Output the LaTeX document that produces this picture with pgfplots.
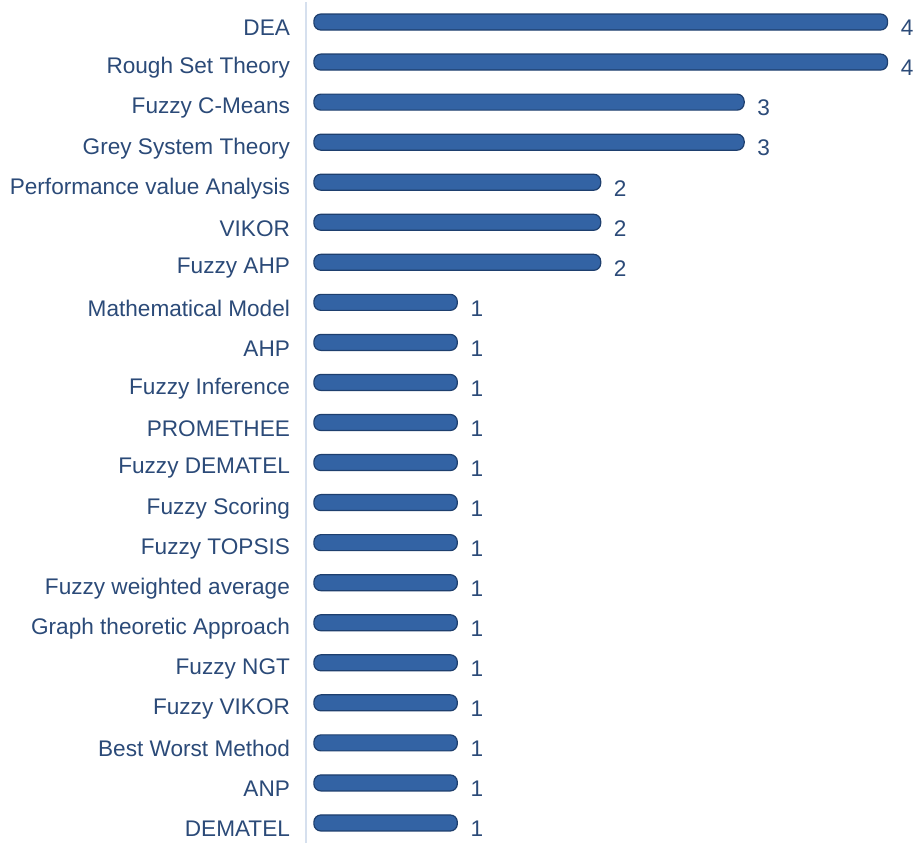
\documentclass[border=0pt]{standalone}
\usepackage{pgfplots}
\pgfplotsset{compat=1.18}
\usepackage{fontspec}
\setmainfont{Liberation Sans}
\definecolor{txt}{HTML}{2B4A78}
\definecolor{barfill}{HTML}{3363A4}
\definecolor{baredge}{HTML}{1E3F6E}
\definecolor{axl}{HTML}{D6E0EE}
\begin{document}
\begin{tikzpicture}[x=1pt,y=1pt]
\begin{axis}[
  scale only axis,
  width=291.5pt, height=420.5pt,
  xbar, bar width=8pt,
  xmin=-0.055, xmax=4.01,
  ymin=-0.5, ymax=20.5,
  axis x line=none,
  axis y line*=left,
  y axis line style={draw=axl, line width=1pt},
  ytick={0,...,20},
  yticklabels={DEMATEL,ANP,Best Worst Method,Fuzzy VIKOR,Fuzzy NGT,Graph theoretic Approach,Fuzzy weighted average,Fuzzy TOPSIS,Fuzzy Scoring,Fuzzy DEMATEL,PROMETHEE,Fuzzy Inference,AHP,Mathematical Model,Fuzzy AHP,VIKOR,Performance value Analysis,Grey System Theory,Fuzzy C-Means,Rough Set Theory,DEA},
  major tick length=0pt,
  yticklabel style={font=\fontsize{11.3}{13}\selectfont, text=txt, xshift=-4.5pt, yshift=-3pt},
  /pgf/number format/assume math mode=true,
  nodes near coords,
  every node near coord/.append style={font=\fontsize{11.3}{13}\selectfont, text=txt, anchor=west, xshift=3pt, yshift=-3pt},
  clip=false,
]
\addplot[rounded corners=3.5pt, draw=baredge, line width=0.6pt, fill=barfill]
 coordinates {(1,0) (1,1) (1,2) (1,3) (1,4) (1,5) (1,6) (1,7) (1,8) (1,9) (1,10) (1,11) (1,12) (1,13) (2,14) (2,15) (2,16) (3,17) (3,18) (4,19) (4,20)};
\end{axis}
\pgfresetboundingbox
\path (current axis.south west) ++(-153pt,0pt) coordinate (bl);
\path (bl) rectangle ++(458pt,421.5pt);
\end{tikzpicture}
\end{document}
